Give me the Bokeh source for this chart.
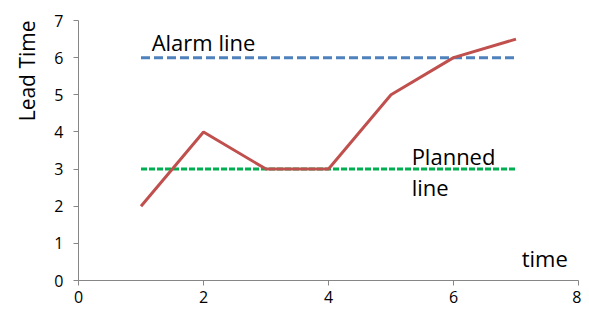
from bokeh.plotting import figure
from bokeh.models import Label, Range1d, FixedTicker, Title
from bokeh.embed import file_html
from bokeh.resources import INLINE

# data
time_x = [1, 2, 3, 4, 5, 6, 7]
lead_time = [2, 4, 3, 3, 5, 6, 6.5]
alarm_x = [1, 7]
alarm_y = [6, 6]
planned_x = [1, 7]
planned_y = [3, 3]
x_ticks = [0, 2, 4, 6, 8]
y_ticks = [0, 1, 2, 3, 4, 5, 6, 7]

FONT = "Open Sans"

p = figure(width=581, height=310, output_backend="svg", toolbar_location=None,
           x_range=Range1d(0, 8), y_range=Range1d(0, 7),
           min_border_left=77, min_border_right=3, min_border_top=20, min_border_bottom=30)
p.outline_line_color = None
p.xgrid.grid_line_color = None
p.ygrid.grid_line_color = None

for ax in (p.xaxis, p.yaxis):
    ax.axis_line_color = "#868686"
    ax.major_tick_line_color = "#868686"
    ax.minor_tick_line_color = None
    ax.major_tick_in = 0
    ax.major_tick_out = 5
    ax.major_label_text_font = FONT
    ax.major_label_text_font_size = "16px"
    ax.major_label_text_color = "#000000"
p.xaxis.ticker = FixedTicker(ticks=x_ticks)
p.yaxis.ticker = FixedTicker(ticks=y_ticks)
p.xaxis.major_label_standoff = 5
p.yaxis.major_label_standoff = 10

p.line(alarm_x, alarm_y, line_color="#4F81BD", line_width=3, line_dash="9 4")
p.line(planned_x, planned_y, line_color="#00B050", line_width=3, line_dash="6 2")
p.line(time_x, lead_time, line_color="#C0504D", line_width=3)

def lab(x, y, t, size="22px"):
    p.add_layout(Label(x=x, y=y, text=t, text_font=FONT, text_font_size=size,
                       text_color="#000000", text_baseline="middle"))

lab(1.17, 6.42, "Alarm line")
lab(5.33, 3.36, "Planned")
lab(5.33, 2.53, "line")
lab(7.09, 0.6, "time")

p.add_layout(Title(text="Lead Time", align="right", text_font=FONT,
                   text_font_size="21px", text_font_style="normal",
                   text_color="#000000", standoff=21), "left")

open("out.html", "w").write(file_html(p, INLINE))
